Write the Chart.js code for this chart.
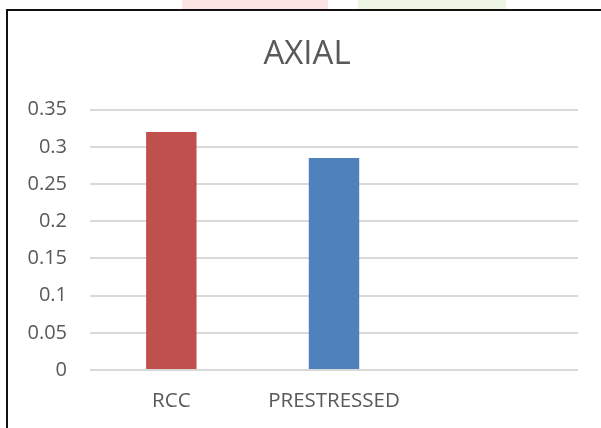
<!DOCTYPE html>
<html>
<head>
<meta charset="utf-8">
<title>AXIAL</title>
<script src="https://cdn.jsdelivr.net/npm/chart.js@4"></script>
<style>
  html, body { margin: 0; padding: 0; background: #fff; }
  #wrap { position: relative; width: 601px; height: 428px; overflow: hidden; }
  #chart { position: absolute; left: 0; top: 0; }
  .frame-top { position: absolute; left: 6px; top: 9px; width: 595px; height: 2px; background: #111; }
  .frame-left { position: absolute; left: 6px; top: 9px; width: 2px; height: 419px; background: #111; }
  .band-red { position: absolute; left: 182px; top: 0; width: 146px; height: 9px; background: #fde4e4; }
  .band-green { position: absolute; left: 358px; top: 0; width: 148px; height: 9px; background: #eef6e3; }
</style>
</head>
<body>
<div id="wrap">
  <canvas id="chart" width="601" height="428"></canvas>
  <div class="band-red"></div>
  <div class="band-green"></div>
  <div class="frame-top"></div>
  <div class="frame-left"></div>
</div>
<script>
// Axial values for the two slab types (third slot left empty)
const categories = ['RCC', 'PRESTRESSED', ''];
const axialValues = [0.32, 0.285, null];
const barColors = ['#C0504D', '#4F81BD', '#9BBB59'];
const yTickLabels = ['0', '0.05', '0.1', '0.15', '0.2', '0.25', '0.3', '0.35'];

const textColor = '#595959';
const fontFamily = "'Open Sans', 'Liberation Sans', sans-serif";

// The title is centred over the framed chart box, which starts further left
// than the tick labels' column; shift the title block's span accordingly.
const titleSpan = {
  id: 'titleSpan',
  afterLayout(chart) {
    const t = chart.titleBlock;
    if (t) {
      t.left += 36;
      t.width = t.right - t.left;
    }
  }
};

new Chart(document.getElementById('chart'), {
  type: 'bar',
  data: {
    labels: categories,
    datasets: [{
      label: 'AXIAL',
      data: axialValues,
      backgroundColor: barColors,
      borderWidth: 0,
      barPercentage: 0.31,
      categoryPercentage: 1.0
    }]
  },
  plugins: [titleSpan],
  options: {
    responsive: false,
    animation: false,
    layout: { padding: { left: 0, right: 23, top: 0, bottom: 0 } },
    plugins: {
      legend: { display: false },
      tooltip: { enabled: false },
      title: {
        display: true,
        text: 'AXIAL',
        color: textColor,
        font: { family: fontFamily, size: 33, weight: 'normal' },
        padding: { top: 35, bottom: 35 }
      }
    },
    scales: {
      x: {
        grid: { display: false, drawTicks: false },
        border: { display: false },
        ticks: {
          color: textColor,
          font: { family: fontFamily, size: 20.5 },
          padding: 19,
          maxRotation: 0,
          autoSkip: false
        },
        afterFit: (scale) => { scale.height = 58; }
      },
      y: {
        min: 0,
        max: 0.35,
        border: { display: false },
        grid: { color: '#d9d9d9', lineWidth: 2, drawTicks: false },
        ticks: {
          stepSize: 0.05,
          color: textColor,
          font: { family: fontFamily, size: 20 },
          padding: 23,
          callback: (value, index) => yTickLabels[index]
        },
        afterFit: (scale) => { scale.width = 90; }
      }
    }
  }
});
</script>
</body>
</html>
